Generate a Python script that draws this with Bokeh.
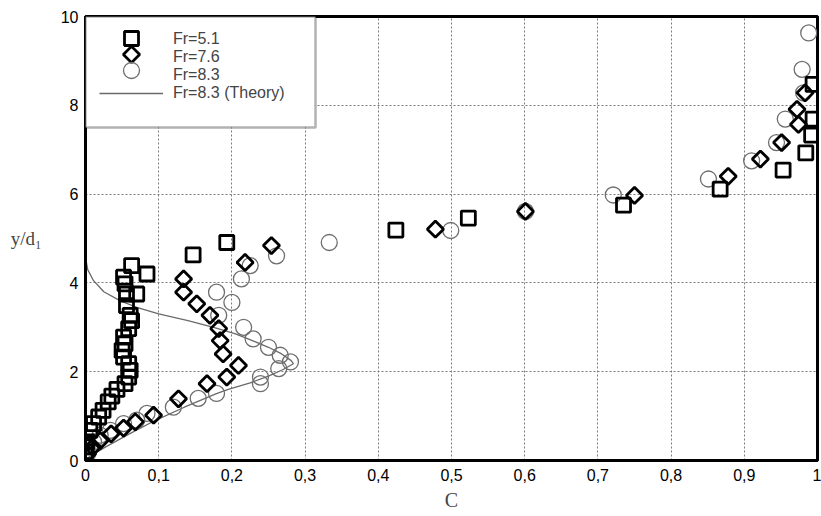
from bokeh.plotting import figure
from bokeh.models import Range1d, FixedTicker, BoxAnnotation, Legend, LegendItem
from bokeh.embed import file_html
from bokeh.resources import INLINE
import numpy as np

# Void fraction profiles C versus y/d1
sq_c = [0.000, 0.000, 0.002, 0.006, 0.011, 0.018, 0.024, 0.031, 0.036, 0.043,
        0.054, 0.059, 0.061, 0.059, 0.052, 0.050, 0.054, 0.052, 0.059, 0.063,
        0.061, 0.056, 0.056, 0.070, 0.054, 0.052, 0.084, 0.063,
        0.147, 0.193, 0.424, 0.523, 0.735, 0.867, 0.953, 0.984, 0.992, 0.994, 0.994]
sq_y = [0.20, 0.31, 0.42, 0.68, 0.83, 0.98, 1.13, 1.32, 1.45, 1.60,
        1.73, 1.88, 2.03, 2.18, 2.33, 2.48, 2.63, 2.78, 2.97, 3.15,
        3.27, 3.49, 3.75, 3.75, 3.98, 4.13, 4.20, 4.39,
        4.63, 4.91, 5.19, 5.46, 5.75, 6.11, 6.54, 6.93, 7.33, 7.69, 8.47]

di_c = [0.003, 0.010, 0.020, 0.035, 0.052, 0.068, 0.093, 0.127, 0.166, 0.193,
        0.209, 0.188, 0.184, 0.182, 0.170, 0.152, 0.134, 0.134, 0.218, 0.254,
        0.478, 0.601, 0.750, 0.878, 0.922, 0.951, 0.974, 0.972, 0.983]
di_y = [0.15, 0.30, 0.45, 0.60, 0.73, 0.87, 1.02, 1.39, 1.73, 1.88,
        2.14, 2.40, 2.70, 2.97, 3.27, 3.53, 3.79, 4.09, 4.46, 4.84,
        5.21, 5.61, 5.97, 6.40, 6.79, 7.16, 7.57, 7.91, 8.28]

ci_c = [0.003, 0.006, 0.011, 0.020, 0.034, 0.052, 0.070, 0.084, 0.120, 0.154,
        0.179, 0.239, 0.239, 0.264, 0.280, 0.266, 0.250, 0.229, 0.216, 0.182,
        0.200, 0.179, 0.213, 0.225, 0.261, 0.333, 0.499, 0.601, 0.721, 0.851,
        0.910, 0.944, 0.956, 0.981, 0.979, 0.988]
ci_y = [0.15, 0.31, 0.42, 0.57, 0.68, 0.83, 0.91, 1.06, 1.20, 1.40,
        1.51, 1.73, 1.88, 2.07, 2.22, 2.37, 2.55, 2.74, 3.00, 3.27,
        3.56, 3.79, 4.09, 4.39, 4.61, 4.91, 5.18, 5.61, 5.98, 6.34,
        6.75, 7.16, 7.69, 8.28, 8.81, 9.63]

th_c = [0.000, 0.003, 0.011, 0.025, 0.047, 0.070, 0.100, 0.140, 0.175, 0.205,
        0.228, 0.250, 0.268, 0.281, 0.284, 0.270, 0.250, 0.225, 0.195, 0.178,
        0.135, 0.095, 0.060, 0.027, 0.002]
th_y = [4.58, 4.30, 4.05, 3.80, 3.60, 3.45, 3.30, 3.15, 3.00, 2.85,
        2.70, 2.55, 2.40, 2.25, 2.18, 2.05, 1.90, 1.75, 1.60, 1.50,
        1.20, 0.90, 0.60, 0.30, 0.05]

x_ticks = [0, 0.1, 0.2, 0.3, 0.4, 0.5, 0.6, 0.7, 0.8, 0.9, 1]
x_tick_labels = ["0", "0,1", "0,2", "0,3", "0,4", "0,5", "0,6", "0,7", "0,8", "0,9", "1"]
y_ticks = [0, 2, 4, 6, 8, 10]
series_names = ["Fr=5.1", "Fr=7.6", "Fr=8.3", "Fr=8.3 (Theory)"]

SANS = "Liberation Sans"
SERIF = "Liberation Serif"

W, H = 821, 516
BL, BR, BT, BB = 85, 4, 16, 56
FW, FH = W - BL - BR, H - BT - BB

p = figure(width=W, height=H, output_backend="svg", toolbar_location=None,
           x_range=Range1d(0, 1), y_range=Range1d(0, 10),
           min_border_left=BL, min_border_right=BR, min_border_top=BT, min_border_bottom=BB)
p.background_fill_color = "white"
p.border_fill_color = "white"
p.outline_line_color = "black"
p.outline_line_width = 3

for ax in (p.xaxis[0], p.yaxis[0]):
    ax.axis_line_width = 3
    ax.axis_line_color = "black"
    ax.major_tick_line_color = None
    ax.minor_tick_line_color = None
    ax.major_tick_out = 0
    ax.major_tick_in = 0
    ax.major_label_text_font = SANS
    ax.major_label_text_font_size = "16px"
    ax.major_label_text_color = "black"

p.xaxis.ticker = FixedTicker(ticks=x_ticks)
p.xaxis.major_label_overrides = dict(zip(x_ticks, x_tick_labels))
p.xaxis.major_label_standoff = 8
p.xaxis.axis_label = "C"
p.xaxis.axis_label_text_font = SERIF
p.xaxis.axis_label_text_font_style = "normal"
p.xaxis.axis_label_text_font_size = "20px"
p.xaxis.axis_label_standoff = 5

p.yaxis.ticker = FixedTicker(ticks=y_ticks)
p.yaxis.major_label_standoff = 7
p.yaxis.axis_label = "y/d\u2081"
p.yaxis.axis_label_orientation = "horizontal"
p.yaxis.axis_label_text_font = SERIF
p.yaxis.axis_label_text_font_style = "normal"
p.yaxis.axis_label_text_font_size = "19px"
p.yaxis.axis_label_standoff = 16

p.xgrid.ticker = FixedTicker(ticks=x_ticks)
p.ygrid.ticker = FixedTicker(ticks=y_ticks)
for g in (p.xgrid[0], p.ygrid[0]):
    g.grid_line_color = "#7a7a7a"
    g.grid_line_dash = "2 2"
    g.grid_line_width = 1

circle_style = dict(marker="circle", size=16, fill_color=None, line_color="#6e6e6e", line_width=1.3)
diamond_style = dict(marker="square", angle=np.pi / 4, size=11.5, fill_color=None,
                     line_color="black", line_width=2.8)
square_style = dict(marker="square", size=14, fill_color=None, line_color="black", line_width=2.8)

r_th = p.line(th_c, th_y, line_color="#6a6a6a", line_width=1.3)
p.scatter(ci_c, ci_y, **circle_style)
p.scatter(di_c, di_y, **diamond_style)
p.scatter(sq_c, sq_y, **square_style)

# legend frame
def px_to_x(px):
    return (px - BL) / FW

def py_to_y(py):
    return 10 * (BT + FH - py) / FH

p.add_layout(BoxAnnotation(left=0, right=px_to_x(315), top=10, bottom=py_to_y(127),
                           fill_color="white", fill_alpha=1.0,
                           line_color="black", line_width=2.5))

# legend symbols at full marker size (the built-in legend shrinks markers)
blank = p.scatter([], [], marker="square", alpha=0)
row_y = [py_to_y(v) for v in (38, 54, 70)]
sym_x = px_to_x(131)
for style, yy in zip((square_style, diamond_style, circle_style), row_y):
    r = p.scatter([sym_x], [yy], **style)
    r.level = "overlay"

legend = Legend(items=[LegendItem(label=series_names[0], renderers=[blank]),
                       LegendItem(label=series_names[1], renderers=[blank]),
                       LegendItem(label=series_names[2], renderers=[blank]),
                       LegendItem(label=series_names[3], renderers=[r_th])],
                location="top_left", margin=0, padding=14, spacing=0,
                glyph_width=64, glyph_height=16, label_height=16, label_standoff=10,
                label_text_font=SANS, label_text_font_size="16px",
                border_line_alpha=0, background_fill_alpha=0)
legend.level = "overlay"
p.add_layout(legend)

open("out.html", "w").write(file_html(p, INLINE))
